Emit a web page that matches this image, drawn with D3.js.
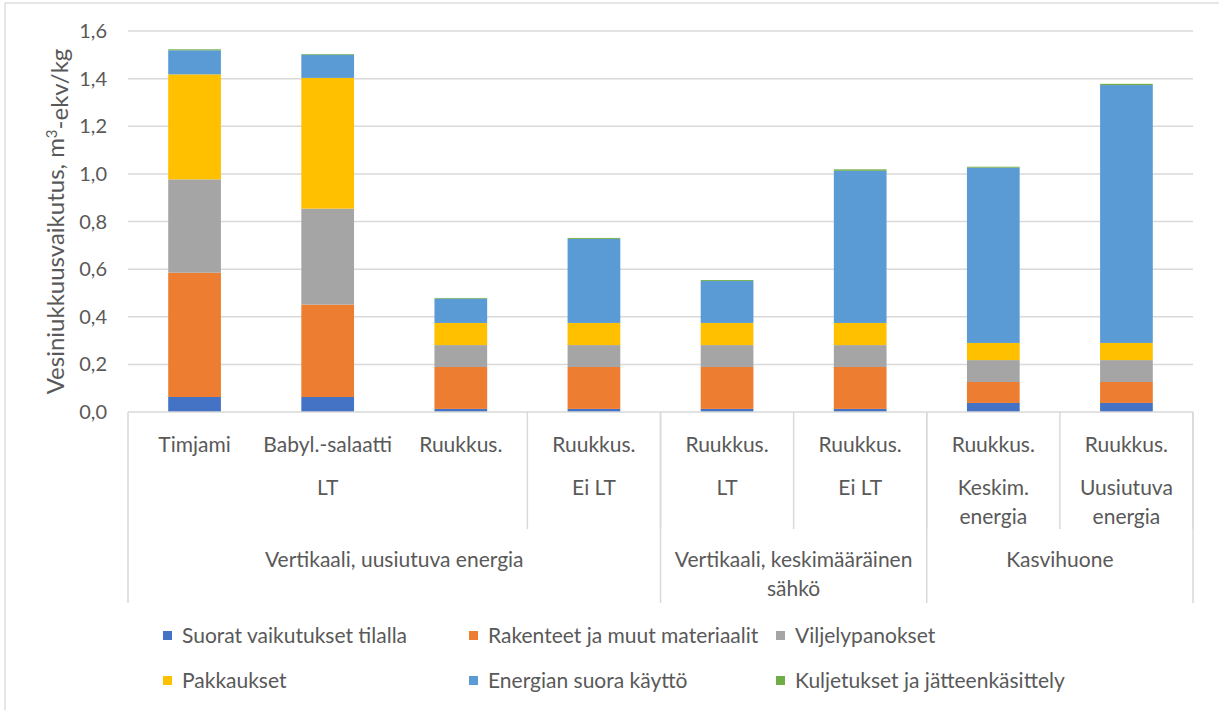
<!DOCTYPE html>
<html>
  <head>
    <meta charset="utf-8" />
    <title>Vesiniukkuusvaikutus</title>
    <script src="https://cdn.jsdelivr.net/npm/d3@7"></script>
    <style>
      body { margin: 0; background: #fff; }
      text { font-family: Lato, "Open Sans", sans-serif; fill: #595959; }
    </style>
  </head>
  <body>
    <svg id="svg" width="1219" height="710" xmlns="http://www.w3.org/2000/svg"></svg>
    <script>
      // Categories, level by level
      let categories = ["Timjami", "Babyl.-salaatti", "Ruukkus.", "Ruukkus.", "Ruukkus.", "Ruukkus.", "Ruukkus.", "Ruukkus."];
      let level2Labels = [["LT"], ["Ei LT"], ["LT"], ["Ei LT"], ["Keskim.", "energia"], ["Uusiutuva", "energia"]];
      let level2Spans = [3, 1, 1, 1, 1, 1];
      let level3Labels = [["Vertikaali, uusiutuva energia"], ["Vertikaali, keskimääräinen", "sähkö"], ["Kasvihuone"]];
      let level3Spans = [4, 2, 2];

      // Series values (m3-ekv/kg)
      let seriesNames = ["Suorat vaikutukset tilalla", "Rakenteet ja muut materiaalit", "Viljelypanokset",
                         "Pakkaukset", "Energian suora käyttö", "Kuljetukset ja jätteenkäsittely"];
      let suorat    = [0.063, 0.063, 0.013, 0.013, 0.013, 0.013, 0.038, 0.038];
      let rakenteet = [0.522, 0.388, 0.176, 0.176, 0.176, 0.176, 0.088, 0.088];
      let viljely   = [0.392, 0.403, 0.092, 0.092, 0.092, 0.092, 0.092, 0.092];
      let pakkaus   = [0.441, 0.549, 0.093, 0.093, 0.093, 0.093, 0.072, 0.072];
      let energia   = [0.101, 0.097, 0.102, 0.353, 0.176, 0.639, 0.736, 1.083];
      let kuljetus  = [0.004, 0.003, 0.003, 0.004, 0.004, 0.006, 0.004, 0.005];
      let yTicks = [0, 0.2, 0.4, 0.6, 0.8, 1.0, 1.2, 1.4, 1.6];

      let colors = ["#4472C4", "#ED7D31", "#A5A5A5", "#FFC000", "#5B9BD5", "#70AD47"];
      let grid = "#d9d9d9";
      let labelSize = "21px";

      let svg = d3.select("svg");

      // chart border
      svg.append("rect")
        .attr("x", 5).attr("y", 3)
        .attr("width", 1300).attr("height", 800)
        .attr("fill", "none").attr("stroke", grid).attr("stroke-width", 1.3);

      let plotLeft = 128, plotRight = 1193, plotTop = 31, plotBottom = 412;

      let x = d3.scaleBand()
        .domain(d3.range(categories.length))
        .range([plotLeft, plotRight])
        .paddingInner(0.604)
        .paddingOuter(0.302);

      let y = d3.scaleLinear().domain([0, 1.6]).range([plotBottom, plotTop]);

      // Gridlines
      svg.append("g")
        .selectAll("line")
        .data(yTicks.slice(1))
        .join("line")
        .attr("x1", plotLeft).attr("x2", plotRight)
        .attr("y1", (d) => y(d)).attr("y2", (d) => y(d))
        .attr("stroke", grid).attr("stroke-width", 1.5);

      // Y tick labels
      let fmt = d3.format(".1f");
      svg.append("g")
        .selectAll("text")
        .data(yTicks)
        .join("text")
        .attr("x", 107)
        .attr("y", (d) => y(d))
        .attr("dy", "0.35em")
        .attr("text-anchor", "end")
        .style("font-size", "20px")
        .text((d) => fmt(d).replace(".", ","));

      // Y axis title
      let title = svg.append("text")
        .attr("transform", "translate(64," + (plotTop + plotBottom) / 2 + ") rotate(-90)")
        .attr("text-anchor", "middle")
        .style("font-size", "24px");
      title.append("tspan").text("Vesiniukkuusvaikutus, m");
      title.append("tspan").attr("dy", "-0.45em").style("font-size", "15px").text("3");
      title.append("tspan").attr("dy", "0.45em").text("-ekv/kg");

      // Stacked bars
      let table = categories.map((c, i) => ({
        i: i, s0: suorat[i], s1: rakenteet[i], s2: viljely[i],
        s3: pakkaus[i], s4: energia[i], s5: kuljetus[i]
      }));
      let stack = d3.stack().keys(["s0", "s1", "s2", "s3", "s4", "s5"])(table);

      svg.append("g")
        .selectAll("g")
        .data(stack)
        .join("g")
        .attr("fill", (d, k) => colors[k])
        .selectAll("rect")
        .data((d) => d)
        .join("rect")
        .attr("x", (d) => x(d.data.i))
        .attr("width", x.bandwidth())
        .attr("y", (d) => y(d[1]))
        .attr("height", (d) => y(d[0]) - y(d[1]));

      // Category axis line
      svg.append("line")
        .attr("x1", plotLeft).attr("x2", plotRight)
        .attr("y1", plotBottom).attr("y2", plotBottom)
        .attr("stroke", grid).attr("stroke-width", 1.5);

      let step = x.step();
      let axis = svg.append("g");

      // Level 1 labels
      axis.selectAll(".l1")
        .data(categories)
        .join("text")
        .attr("class", "l1")
        .attr("x", (d, i) => x(i) + x.bandwidth() / 2)
        .attr("y", 445)
        .attr("dy", "0.35em")
        .attr("text-anchor", "middle")
        .style("font-size", labelSize)
        .text((d) => d);

      // Group labels with separator lines
      function drawGroup(labels, spans, y0, lineBottom) {
        let start = 0;
        labels.forEach((lines, g) => {
          let x0 = plotLeft + start * step;
          let x1 = plotLeft + (start + spans[g]) * step;
          let t = axis.append("text")
            .attr("y", y0)
            .attr("text-anchor", "middle")
            .style("font-size", labelSize);
          lines.forEach((ln, k) => {
            t.append("tspan")
              .attr("x", (x0 + x1) / 2)
              .attr("dy", k == 0 ? "0.35em" : "1.35em")
              .text(ln);
          });
          axis.append("line")
            .attr("x1", x1).attr("x2", x1)
            .attr("y1", plotBottom).attr("y2", lineBottom)
            .attr("stroke", grid).attr("stroke-width", 1.5);
          start += spans[g];
        });
      }

      drawGroup(level2Labels, level2Spans, 488, 529);
      drawGroup(level3Labels, level3Spans, 560, 603);

      // left edge line
      axis.append("line")
        .attr("x1", plotLeft).attr("x2", plotLeft)
        .attr("y1", plotBottom).attr("y2", 603)
        .attr("stroke", grid).attr("stroke-width", 1.5);

      // Legend
      let legendX = [163, 469, 776];
      let legendY = [636, 681];
      let legend = svg.append("g")
        .selectAll("g")
        .data(seriesNames)
        .join("g")
        .attr("transform", (d, k) => "translate(" + legendX[k % 3] + "," + legendY[Math.floor(k / 3)] + ")");
      legend.append("rect")
        .attr("x", 0).attr("y", -5)
        .attr("width", 9).attr("height", 9)
        .attr("fill", (d, k) => colors[k]);
      legend.append("text")
        .attr("x", 19).attr("y", 0)
        .attr("dy", "0.35em")
        .style("font-size", labelSize)
        .text((d) => d);
    </script>
  </body>
</html>
